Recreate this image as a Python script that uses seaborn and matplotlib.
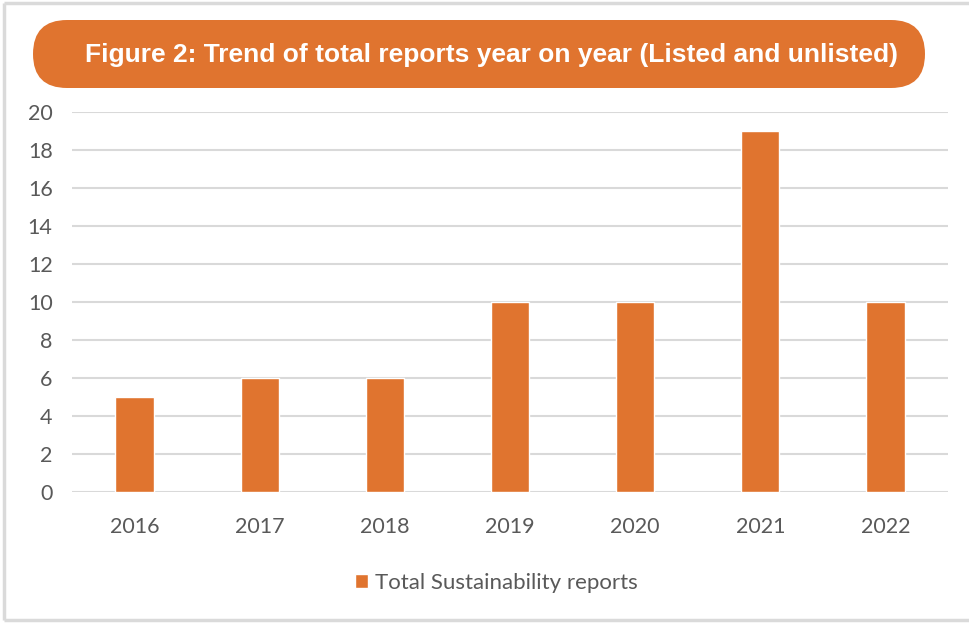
import matplotlib
matplotlib.use("Agg")
import matplotlib.pyplot as plt
from matplotlib.patches import FancyBboxPatch
import seaborn as sns
import pandas as pd

years = ["2016", "2017", "2018", "2019", "2020", "2021", "2022"]
reports = [5, 6, 6, 10, 10, 19, 10]
series_name = "Total Sustainability reports"
title = "Figure 2: Trend of total reports year on year (Listed and unlisted)"
y_ticks = [0, 2, 4, 6, 8, 10, 12, 14, 16, 18, 20]

ORANGE = "#E0742F"
GRID = "#D9D9D9"
TEXT = "#595959"

sns.set_theme(style="white")
plt.rcParams["font.family"] = ["Lato", "DejaVu Sans"]

W, H = 969, 623
fig = plt.figure(figsize=(W / 100, H / 100), dpi=100)
fig.patch.set_facecolor("white")

# pixel-space canvas for the frame and the title banner
bg = fig.add_axes([0, 0, 1, 1])
bg.set_xlim(0, W)
bg.set_ylim(H, 0)
bg.axis("off")
bg.set_zorder(-1)
for xs, ys in [((4, W), (3, 3)), ((4, 4), (3, H - 3)), ((4, W), (H - 3, H - 3))]:
    bg.plot(xs, ys, color="#DADADA", lw=2.5, solid_capstyle="butt")

banner = FancyBboxPatch((33, 20), 892, 68,
                        boxstyle="round,pad=0,rounding_size=34",
                        facecolor=ORANGE, edgecolor="none")
bg.add_patch(banner)
bg.text(492, 55, title, ha="center", va="center", color="white",
        fontsize=19, fontweight="bold", family=["Liberation Sans", "DejaVu Sans"])

df = pd.DataFrame({"year": years, "reports": reports})

ax = fig.add_axes([72 / W, (H - 492) / H, (948 - 72) / W, (492 - 112) / H])
sns.barplot(data=df, x="year", y="reports", color=ORANGE, width=0.305,
            saturation=1, label=series_name, ax=ax, zorder=3)

ax.set_xlim(-0.5, len(years) - 0.5)
ax.set_ylim(0, 20)
ax.set_yticks(y_ticks)
ax.set_yticklabels([str(t) for t in y_ticks])
for t in y_ticks:
    ax.axhline(t, color=GRID, lw=1.5, zorder=1)
for s in ax.spines.values():
    s.set_visible(False)
ax.set_xlabel("")
ax.set_ylabel("")
ax.tick_params(axis="both", length=0, labelsize=15.5, colors=TEXT)
ax.tick_params(axis="y", pad=14)
ax.tick_params(axis="x", pad=18)
ax.set_facecolor("none")

ax.legend(loc="center", bbox_to_anchor=(0.484, -0.24), frameon=False,
          handlelength=0.6, handleheight=0.6, handletextpad=0.3,
          fontsize=16, labelcolor=TEXT)

fig.savefig("out.png", dpi=100, facecolor="white")
